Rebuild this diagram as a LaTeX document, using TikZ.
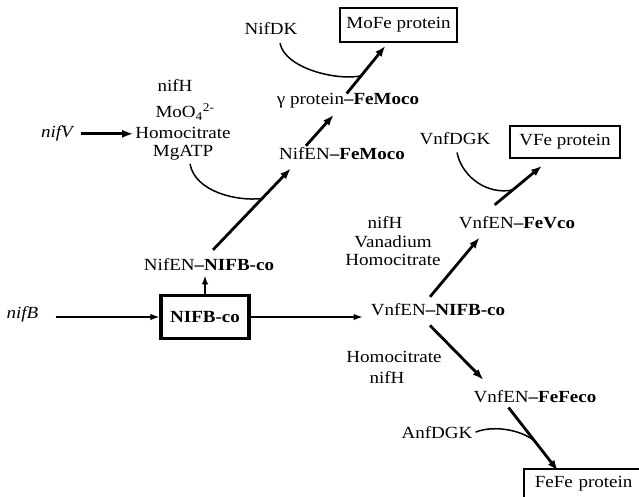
\documentclass[tikz,border=0pt]{standalone}
\usepackage{fontspec}
\setmainfont{Liberation Serif}[FakeStretch=1.12]
\usetikzlibrary{arrows.meta,calc}

\begin{document}
\begin{tikzpicture}[x=1pt,y=-1pt,
    every node/.style={inner sep=0pt, font=\fontsize{17}{20}\selectfont},
    lbl/.style={anchor=base},
    protbox/.style={draw, line width=1.6pt, minimum height=34pt},
    boldarrow/.style={-{Latex[length=11pt,width=8pt]}, line width=2.8pt},
    thinarrow/.style={-{Latex[length=9pt,width=6.5pt]}, line width=1.5pt},
    feed/.style={line width=1.5pt}]
  \useasboundingbox (0,0) rectangle (639,497);
  \clip (0,0) rectangle (639,497);

  % Mo branch
  \node[lbl] (nifdk) at (271,35) {NifDK};
  \node[protbox, minimum width=117pt] (mofe) at (398.5,25) {MoFe protein};
  \node[lbl] (gfemoco) at (348,105) {γ protein\textbf{--FeMoco}};
  \node[lbl] (nfemoco) at (342,160) {NifEN\textbf{--FeMoco}};
  \node[lbl] (nifha) at (175,92) {nifH};
  \node[lbl] (mooa) at (185,118) {MoO\textsubscript{4}\textsuperscript{2-}};
  \node[lbl] (homocita) at (183,139) {Homocitrate};
  \node[lbl] (mgatp) at (183,157) {MgATP};
  \node[lbl] (nifv) at (57,138) {\itshape nifV};
  \node[lbl] (nifennifb) at (209,270) {NifEN\textbf{--NIFB-co}};

  % NIFB-co
  \node[protbox, line width=3.2pt, minimum width=88pt, minimum height=43pt] (nifbco) at (205,317) {\textbf{NIFB-co}};
  \node[lbl] (nifb) at (22.5,318) {\itshape nifB};

  % V and Fe branches
  \node[lbl] (vnifb) at (438,315) {VnfEN\textbf{--NIFB-co}};
  \node[lbl] (vnifh) at (385,228) {nifH};
  \node[lbl] (vanad) at (393,247) {Vanadium};
  \node[lbl] (vhomocit) at (393,265) {Homocitrate};
  \node[lbl] (vfevco) at (517,228) {VnfEN\textbf{--FeVco}};
  \node[lbl] (vnfdgk) at (455,145) {VnfDGK};
  \node[protbox, minimum width=110pt, minimum height=32pt] (vfe) at (565,142) {VFe protein};
  \node[lbl] (fhomocit) at (394,362) {Homocitrate};
  \node[lbl] (fnifh) at (387,383) {nifH};
  \node[lbl] (vfefeco) at (535,402) {VnfEN\textbf{--FeFeco}};
  \node[lbl] (anfdgk) at (437,438) {AnfDGK};
  \node[protbox, anchor=north west, text width=125pt, align=left, text height=19pt, text depth=20pt] (fefe) at (523,468) {\hspace*{11pt}FeFe protein};

  % arrow ends
  \coordinate (ntail) at ([xshift=4pt,yshift=8pt]nifennifb.north);
  \coordinate (nhead) at ([xshift=12pt,yshift=-8pt]nfemoco.south west);
  \coordinate (gtail) at ([xshift=70pt]gfemoco.north west);
  \coordinate (mohead) at ([xshift=-13pt,yshift=-3pt]mofe.south);
  \coordinate (vtail) at ([xshift=36pt,yshift=11pt]vfevco.north west);
  \coordinate (vhead) at ([xshift=-23pt,yshift=-7pt]vfe.south);
  \coordinate (ftail) at ([xshift=35pt,yshift=-5pt]vfefeco.south west);
  \coordinate (fhead) at ([xshift=35pt,yshift=-3pt]fefe.north west);

  \draw[boldarrow, shorten <=8pt, shorten >=2pt] (nifv.east) -- (nifv.east -| homocita.west);
  \draw[thinarrow, line width=2pt, shorten >=5pt] (nifbco.north) -- (nifbco.north |- nifennifb.south);
  \draw[thinarrow, shorten <=17pt] (nifb.east |- nifbco) -- (nifbco.west);
  \draw[thinarrow, shorten >=8pt] (nifbco.east) -- (nifbco.east -| vnifb.west);

  \draw[boldarrow] (ntail) -- (nhead);
  \draw[boldarrow] ([xshift=27pt,yshift=2pt]nfemoco.north west) -- ([xshift=57pt,yshift=-6pt]gfemoco.south west);
  \draw[boldarrow] (gtail) -- (mohead);
  \draw[feed] ([xshift=7pt,yshift=-3pt]mgatp.south) .. controls +(5,28) and +(-25,3) .. ($(ntail)!0.63!(nhead)$);
  \draw[feed] ([xshift=9pt,yshift=-8pt]nifdk.south) .. controls +(5,25) and +(-25,5) .. ($(gtail)!0.37!(mohead)$);

  \draw[boldarrow] ([xshift=-8pt,yshift=6pt]vnifb.north) -- ([xshift=21pt,yshift=-9pt]vfevco.south west);
  \draw[boldarrow] (vtail) -- (vhead);
  \draw[feed] ([xshift=2pt,yshift=-7pt]vnfdgk.south) .. controls +(5,25) and +(-25,5) .. ($(vtail)!0.38!(vhead)$);
  \draw[boldarrow] ([xshift=-8pt,yshift=-10pt]vnifb.south) -- ([xshift=10pt,yshift=10pt]vfefeco.north west);
  \draw[boldarrow] (ftail) -- (fhead);
  \draw[feed] ([xshift=3pt]anfdgk.east) .. controls +(20,-8) and +(-10,-11) .. ($(ftail)!0.55!(fhead)$);
\end{tikzpicture}
\end{document}
